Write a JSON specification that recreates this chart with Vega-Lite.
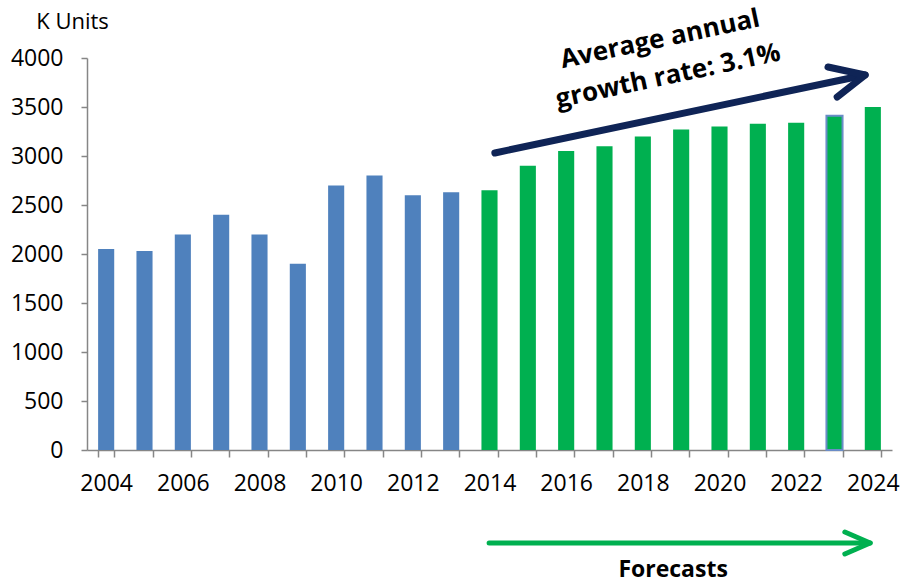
{
  "$schema": "https://vega.github.io/schema/vega-lite/v6.json",
  "width": 805,
  "height": 392,
  "autosize": "none",
  "padding": {"left": 87, "top": 58, "right": 10, "bottom": 135},
  "background": "white",
  "config": {"view": {"stroke": null}, "font": "Open Sans"},
  "datasets": {
    "bars": [
      {"year": 2004, "value": 2050, "type": "Actual"},
      {"year": 2005, "value": 2030, "type": "Actual"},
      {"year": 2006, "value": 2200, "type": "Actual"},
      {"year": 2007, "value": 2400, "type": "Actual"},
      {"year": 2008, "value": 2200, "type": "Actual"},
      {"year": 2009, "value": 1900, "type": "Actual"},
      {"year": 2010, "value": 2700, "type": "Actual"},
      {"year": 2011, "value": 2800, "type": "Actual"},
      {"year": 2012, "value": 2600, "type": "Actual"},
      {"year": 2013, "value": 2630, "type": "Actual"},
      {"year": 2014, "value": 2650, "type": "Forecast"},
      {"year": 2015, "value": 2900, "type": "Forecast"},
      {"year": 2016, "value": 3050, "type": "Forecast"},
      {"year": 2017, "value": 3100, "type": "Forecast"},
      {"year": 2018, "value": 3200, "type": "Forecast"},
      {"year": 2019, "value": 3270, "type": "Forecast"},
      {"year": 2020, "value": 3300, "type": "Forecast"},
      {"year": 2021, "value": 3330, "type": "Forecast"},
      {"year": 2022, "value": 3340, "type": "Forecast"},
      {"year": 2023, "value": 3410, "type": "Forecast"},
      {"year": 2024, "value": 3500, "type": "Forecast"}
    ],
    "navyArrow": [
      {"seg": "shaft", "o": 1, "x": 2014.14, "y": 3031},
      {"seg": "shaft", "o": 2, "x": 2023.8, "y": 3827},
      {"seg": "head", "o": 1, "x": 2022.83, "y": 3908},
      {"seg": "head", "o": 2, "x": 2023.8, "y": 3827},
      {"seg": "head", "o": 3, "x": 2023.07, "y": 3602}
    ],
    "greenArrow": [
      {"seg": "shaft", "o": 1, "x": 2013.99, "y": -949},
      {"seg": "shaft", "o": 2, "x": 2023.93, "y": -949},
      {"seg": "head", "o": 1, "x": 2023.27, "y": -837},
      {"seg": "head", "o": 2, "x": 2023.93, "y": -949},
      {"seg": "head", "o": 3, "x": 2023.27, "y": -1061}
    ],
    "navyText": [
      {"label": "Average annual", "x": 2018.45, "y": 4190},
      {"label": "growth rate: 3.1%", "x": 2018.66, "y": 3815}
    ],
    "greenText": [
      {"label": "Forecasts", "x": 2018.79, "y": -1225}
    ]
  },
  "layer": [
    {
      "data": {"name": "bars"},
      "mark": {"type": "bar"},
      "encoding": {
        "x": {
          "field": "year",
          "type": "ordinal",
          "scale": {"paddingInner": 0.58, "paddingOuter": 0.29},
          "axis": {
            "title": null,
            "labelAngle": 0,
            "labelFontSize": 23,
            "labelColor": "black",
            "labelExpr": "datum.value % 2 == 0 ? datum.label : ''",
            "labelOverlap": false,
            "tickBand": "extent",
            "tickSize": 7,
            "labelPadding": 15,
            "domainColor": "#868686",
            "tickColor": "#868686",
            "domainWidth": 1.5,
            "tickWidth": 1.5
          }
        },
        "y": {
          "field": "value",
          "type": "quantitative",
          "scale": {"domain": [0, 4000], "nice": false, "zero": false},
          "axis": {
            "values": [0, 500, 1000, 1500, 2000, 2500, 3000, 3500, 4000],
            "format": "d",
            "grid": false,
            "tickSize": 6,
            "labelFontSize": 23,
            "labelColor": "black",
            "labelPadding": 18,
            "domainColor": "#868686",
            "tickColor": "#868686",
            "domainWidth": 1.5,
            "tickWidth": 1.5,
            "title": "K Units",
            "titleAngle": 0,
            "titleX": -15,
            "titleY": -37,
            "titleAlign": "center",
            "titleBaseline": "middle",
            "titleFontSize": 22,
            "titleFontWeight": "normal",
            "titleColor": "black"
          }
        },
        "color": {
          "field": "type",
          "type": "nominal",
          "scale": {"domain": ["Actual", "Forecast"], "range": ["#4F81BD", "#00B050"]},
          "legend": null
        },
        "stroke": {"value": "#6A8CC7"},
        "strokeWidth": {"condition": {"test": "datum.year == 2023", "value": 2}, "value": 0}
      }
    },
    {
      "data": {"name": "navyArrow"},
      "mark": {"type": "line", "color": "#0F2456", "strokeWidth": 7, "strokeCap": "round", "strokeJoin": "round"},
      "encoding": {
        "x": {"field": "x", "type": "quantitative", "scale": {"domain": [2003.5, 2024.5], "nice": false, "zero": false}, "axis": null},
        "y": {"field": "y", "type": "quantitative", "scale": {"domain": [0, 4000], "nice": false, "zero": false}},
        "detail": {"field": "seg"},
        "order": {"field": "o"}
      }
    },
    {
      "data": {"name": "greenArrow"},
      "mark": {"type": "line", "color": "#00B050", "strokeWidth": 5, "strokeCap": "round", "strokeJoin": "round"},
      "encoding": {
        "x": {"field": "x", "type": "quantitative", "scale": {"domain": [2003.5, 2024.5], "nice": false, "zero": false}, "axis": null},
        "y": {"field": "y", "type": "quantitative", "scale": {"domain": [0, 4000], "nice": false, "zero": false}},
        "detail": {"field": "seg"},
        "order": {"field": "o"}
      }
    },
    {
      "data": {"name": "navyText"},
      "mark": {"type": "text", "angle": -12, "fontSize": 26, "fontWeight": "bold", "color": "black", "align": "center", "baseline": "middle"},
      "encoding": {
        "x": {"field": "x", "type": "quantitative", "scale": {"domain": [2003.5, 2024.5], "nice": false, "zero": false}, "axis": null},
        "y": {"field": "y", "type": "quantitative", "scale": {"domain": [0, 4000], "nice": false, "zero": false}},
        "text": {"field": "label"}
      }
    },
    {
      "data": {"name": "greenText"},
      "mark": {"type": "text", "fontSize": 23, "fontWeight": "bold", "color": "black", "align": "center", "baseline": "middle"},
      "encoding": {
        "x": {"field": "x", "type": "quantitative", "scale": {"domain": [2003.5, 2024.5], "nice": false, "zero": false}, "axis": null},
        "y": {"field": "y", "type": "quantitative", "scale": {"domain": [0, 4000], "nice": false, "zero": false}},
        "text": {"field": "label"}
      }
    }
  ],
  "resolve": {"scale": {"x": "independent"}, "axis": {"x": "independent"}}
}
